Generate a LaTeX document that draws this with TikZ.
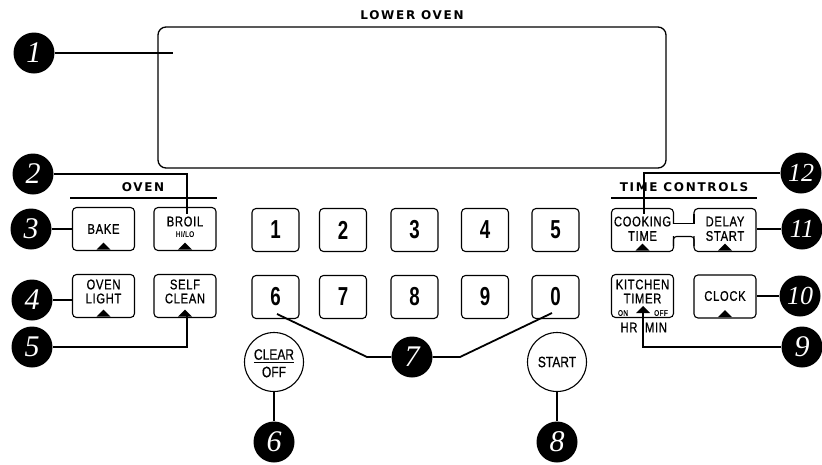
\documentclass[tikz,border=0pt]{standalone}
\usepackage{fontspec}
\setmainfont{Liberation Sans}
\newfontfamily\btnfont[FakeStretch=0.8,LetterSpace=5,FakeBold=0.8]{Liberation Sans}
\newfontfamily\plainfont[FakeStretch=0.8,FakeBold=0.8]{Liberation Sans}
\newfontfamily\keyfont[FakeStretch=0.72]{Liberation Sans}
\newfontfamily\headfont[LetterSpace=14]{DejaVu Sans}
\newfontfamily\circfont{Liberation Serif}
\newcommand\tri[1]{\fill[shift={(#1.south)}] (-7,-1.5) -- (7,-1.5) -- (0,-8.5) -- cycle;}
\begin{document}
\begin{tikzpicture}[x=1pt,y=-1pt,
  btn/.style={draw, rounded corners=4, line width=1.1pt, minimum width=62pt, minimum height=43pt, inner sep=0pt},
  keybox/.style={draw, rounded corners=4, line width=1.1pt, minimum width=47pt, minimum height=43pt, inner sep=0pt,
    font=\keyfont\bfseries\fontsize{26}{26}\selectfont},
  rbtn/.style={draw, circle, line width=1.1pt, minimum size=59pt, inner sep=0pt},
  num/.style={circle, fill=black, text=white, minimum size=41pt, inner sep=0pt,
    font=\circfont\itshape\fontsize{30}{30}\selectfont},
  numw/.style={num, font=\circfont\itshape\fontsize{26}{26}\selectfont},
  conn/.style={line width=1.8pt},
  lbl/.style={inner sep=0pt, font=\btnfont\fontsize{14}{14}\selectfont},
  small/.style={inner sep=0pt, font=\btnfont\fontsize{8}{8}\selectfont},
  rlbl/.style={inner sep=0pt, font=\plainfont\fontsize{15}{15}\selectfont},
  head/.style={inner sep=0pt, font=\headfont\bfseries\fontsize{12}{12}\selectfont},
  rule/.style={line width=1.1pt}
]
\useasboundingbox (0,0) rectangle (822,464);

% display
\node[draw, rounded corners=8, line width=1.3pt, minimum width=508pt, minimum height=141pt] (disp) at (412,97.5) {};
\node[head] (lowerlbl) at (412,15) {LOWER OVEN};

% headers
\node[head] (ovenlbl) at (143,187) {OVEN};
\coordinate (ol) at (70,198); \coordinate (or) at (217,198);
\draw[rule] (ol) -- (or);
\node[head] (timelbl) at (684,187) {TIME CONTROLS};
\coordinate (tl) at (611,198); \coordinate (tr) at (757,198);
\draw[rule] (tl) -- (tr);

% oven buttons
\node[btn] (bake) at (103.5,229) {};
\node[btn] (broil) at (185,229) {};
\node[btn] (ovenlight) at (103.5,296) {};
\node[btn] (selfclean) at (185,296) {};
\node[lbl] (bakeT) at (103.5,229) {BAKE};
\node[lbl] (broilT) at (185,221.5) {BROIL};
\node[small] (hiloT) at (185,234) {HI/LO};
\node[lbl] (olT1) at (103.5,284.5) {OVEN};
\node[lbl] (olT2) at (103.5,298.5) {LIGHT};
\node[lbl] (scT1) at (185,284.5) {SELF};
\node[lbl] (scT2) at (185,298.5) {CLEAN};
\tri{bake}\tri{broil}\tri{ovenlight}\tri{selfclean}

% number keys
\node[keybox] (k1) at (275.5,230) {1};
\node[keybox] (k2) at (343,230) {2};
\node[keybox] (k3) at (414.5,230) {3};
\node[keybox] (k4) at (485,230) {4};
\node[keybox] (k5) at (555.5,230) {5};
\node[keybox] (k6) at (275.5,297) {6};
\node[keybox] (k7) at (343,297) {7};
\node[keybox] (k8) at (414.5,297) {8};
\node[keybox] (k9) at (485,297) {9};
\node[keybox] (k0) at (555.5,297) {0};

% round buttons
\node[rbtn] (clear) at (274,362) {};
\node[rlbl] (clearT) at (274,354.5) {CLEAR};
\node[rlbl] (offT) at (274,372) {OFF};
\draw[line width=1pt] ([yshift=-2.5pt]clearT.south west) -- ([yshift=-2.5pt]clearT.south east);
\node[rbtn] (start) at (557,362) {};
\node[rlbl] (startT) at (557,362) {START};

% time controls
\node[btn] (cooking) at (642.5,230) {};
\node[btn] (delay) at (725,230) {};
\fill[white] (670.5,224.2) rectangle (696.5,235.8);
\draw[line width=1.1pt] (673.5,214) -- (673.5,223.5) -- (694,223.5) -- (694,214);
\draw[line width=1.1pt, rounded corners=3] (673.5,246) -- (673.5,236.5) -- (694,236.5) -- (694,246);
\node[lbl] (ckT1) at (642.5,221.5) {COOKING};
\node[lbl] (ckT2) at (642.5,236) {TIME};
\node[lbl] (dsT1) at (725,221.5) {DELAY};
\node[lbl] (dsT2) at (725,236) {START};
\tri{cooking}\tri{delay}
\node[btn] (kitchen) at (642.5,296) {};
\node[btn] (clock) at (725,296.5) {};
\node[lbl] (ktT1) at (642.5,284.5) {KITCHEN};
\node[lbl] (ktT2) at (642.5,298.5) {TIMER};
\node[small] (onT) at (623,313) {ON};
\node[small] (offT2) at (661,313) {OFF};
\node[lbl] (hrT) at (629,327.5) {HR};
\node[lbl] (minT) at (656,327.5) {MIN};
\node[lbl] (clockT) at (725,296) {CLOCK};
\tri{clock}
\fill (636,313) -- (650,313) -- (643,306) -- cycle;

% number circles
\node[num] (c1) at (34,53) {1};
\node[num] (c2) at (33,174) {2};
\node[num] (c3) at (31,229) {3};
\node[num] (c4) at (32,300) {4};
\node[num] (c5) at (32,347) {5};
\node[num] (c6) at (274,442) {6};
\node[num] (c7) at (412,357) {7};
\node[num] (c8) at (557,442) {8};
\node[num] (c9) at (802,347) {9};
\node[numw] (c10) at (800,296) {10};
\node[numw] (c11) at (802,229) {11};
\node[numw] (c12) at (801,173) {12};

% connectors
\coordinate (e1) at (173,53);
\draw[conn] (c1) -- (e1);
\coordinate (e2) at (187,214);
\draw[conn] (c2) -| (e2);
\draw[conn] (c3) -- (bake.west);
\draw[conn] (c4.east) -- (c4.east -| ovenlight.west);
\coordinate (e5) at (187,313);
\draw[conn] (c5) -| (e5);
\draw[conn] (clear.south) -- (c6);
\coordinate (k6p) at (277,314);
\coordinate (m7l) at (367,357);
\coordinate (m7r) at (460,357);
\coordinate (k0p) at (552,313);
\draw[conn] (k6p) -- (m7l) -- (c7);
\draw[conn] (c7) -- (m7r) -- (k0p);
\draw[conn] (start.south) -- (c8);
\coordinate (e9) at (643,310);
\draw[conn] (c9) -| (e9);
\draw[conn] (c10.west) -- (c10.west -| clock.east);
\draw[conn] (c11.west) -- (c11.west -| delay.east);
\coordinate (e12) at (644,214);
\draw[conn] (c12) -| (e12);
\end{tikzpicture}
\end{document}
